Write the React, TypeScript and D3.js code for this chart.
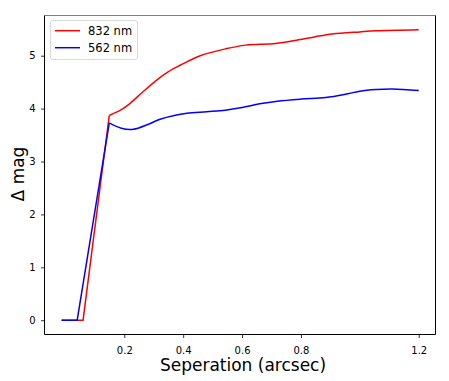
import React, { useRef, useEffect } from 'react';
import * as d3 from 'd3';

// separation (arcsec) and delta mag
const sep832Steep = [-0.013, 0.060, 0.149];
const mag832Steep = [0, 0, 3.87];
const sep832 = [0.149, 0.19, 0.22, 0.26, 0.31, 0.35, 0.39, 0.458, 0.544, 0.612, 0.714, 0.792, 0.85, 0.907, 1.0, 1.055, 1.2];
const mag832 = [3.87, 3.98, 4.10, 4.30, 4.54, 4.70, 4.82, 5.00, 5.13, 5.20, 5.23, 5.30, 5.36, 5.41, 5.45, 5.47, 5.49];

const sep562Steep = [-0.013, 0.040, 0.149];
const mag562Steep = [0, 0, 3.73];
const sep562 = [0.149, 0.19, 0.231, 0.28, 0.322, 0.37, 0.413, 0.48, 0.543, 0.6, 0.66, 0.72, 0.8, 0.884, 0.95, 1.0, 1.055, 1.111, 1.2];
const mag562 = [3.73, 3.63, 3.61, 3.70, 3.80, 3.87, 3.91, 3.94, 3.97, 4.02, 4.09, 4.14, 4.18, 4.21, 4.27, 4.33, 4.36, 4.37, 4.34];

const xTicks = [0.2, 0.4, 0.6, 0.8, 1.2];
const yTicks = [0, 1, 2, 3, 4, 5];
const seriesNames = ['832 nm', '562 nm'];
const seriesColors = ['#ff0000', '#0000ff'];

const W = 449, H = 381;
const left = 44.5, right = 435.5, top = 15.5, bottom = 334.5;
const font = 'DejaVu Sans, sans-serif';

const zip = (xs: number[], ys: number[]) => xs.map((x, i) => [x, ys[i]] as [number, number]);

export default function App() {
  const xAxisRef = useRef<SVGGElement>(null);
  const yAxisRef = useRef<SVGGElement>(null);

  const x = d3.scaleLinear().domain([-0.071, 1.257]).range([left, right]);
  const y = d3.scaleLinear().domain([-0.27, 5.76]).range([bottom, top]);

  const straight = d3.line<[number, number]>().x(d => x(d[0])).y(d => y(d[1]));
  const smooth = d3.line<[number, number]>().x(d => x(d[0])).y(d => y(d[1])).curve(d3.curveCatmullRom.alpha(0.5));

  useEffect(() => {
    const gx = d3.select(xAxisRef.current!);
    gx.call(d3.axisBottom(x).tickValues(xTicks).tickFormat(d3.format('.1f')).tickSize(3.5).tickPadding(8.5) as any);
    gx.select('.domain').remove();
    gx.selectAll('text').attr('font-size', 10).attr('font-family', font).attr('fill', '#000');
    gx.selectAll('line').attr('stroke', '#000').attr('stroke-width', 0.8);

    const gy = d3.select(yAxisRef.current!);
    gy.call(d3.axisLeft(y).tickValues(yTicks).tickFormat(d3.format('d')).tickSize(3.5).tickPadding(5.5) as any);
    gy.select('.domain').remove();
    gy.selectAll('text').attr('font-size', 10).attr('font-family', font).attr('fill', '#000');
    gy.selectAll('line').attr('stroke', '#000').attr('stroke-width', 0.8);
  }, []);

  const series = [
    { steep: zip(sep832Steep, mag832Steep), curve: zip(sep832, mag832) },
    { steep: zip(sep562Steep, mag562Steep), curve: zip(sep562, mag562) },
  ];

  return (
    <svg width={W} height={H} style={{ position: 'absolute', left: 0, top: 0, background: '#fff' }}>
      <rect x={0} y={0} width={W} height={H} fill="#fff" />
      {series.map((s, i) => (
        <g key={i} fill="none" stroke={seriesColors[i]} strokeWidth={1.5}>
          <path d={straight(s.steep) || ''} />
          <path d={smooth(s.curve) || ''} />
        </g>
      ))}
      {/* spines */}
      <line x1={left} x2={right} y1={top} y2={top} stroke="#808080" strokeWidth={1} />
      <line x1={left} x2={right} y1={bottom} y2={bottom} stroke="#000" strokeWidth={1} />
      <line x1={left} x2={left} y1={top} y2={bottom} stroke="#000" strokeWidth={1} />
      <line x1={right} x2={right} y1={top} y2={bottom} stroke="#000" strokeWidth={1} />
      <g ref={xAxisRef} transform={`translate(0,${bottom})`} />
      <g ref={yAxisRef} transform={`translate(${left},0)`} />

      {/* legend */}
      <rect x={50.5} y={20.5} width={87} height={39} rx={2.5} fill="#fff" fillOpacity={0.8} stroke="#d0d0d0" strokeWidth={0.8} />
      {seriesNames.map((name, i) => (
        <g key={name}>
          <line x1={55} x2={80} y1={30.7 + i * 17} y2={30.7 + i * 17} stroke={seriesColors[i]} strokeWidth={1.5} />
          <text x={88} y={34.8 + i * 17} fontSize={11.5} fontFamily={font} fill="#000">{name}</text>
        </g>
      ))}

      <text x={243} y={371} textAnchor="middle" fontSize={17} fontFamily={font} fill="#000">Seperation (arcsec)</text>
      <text transform="translate(24,174) rotate(-90)" textAnchor="middle" fontSize={17} fontFamily={font} fill="#000">Δ mag</text>
    </svg>
  );
}
